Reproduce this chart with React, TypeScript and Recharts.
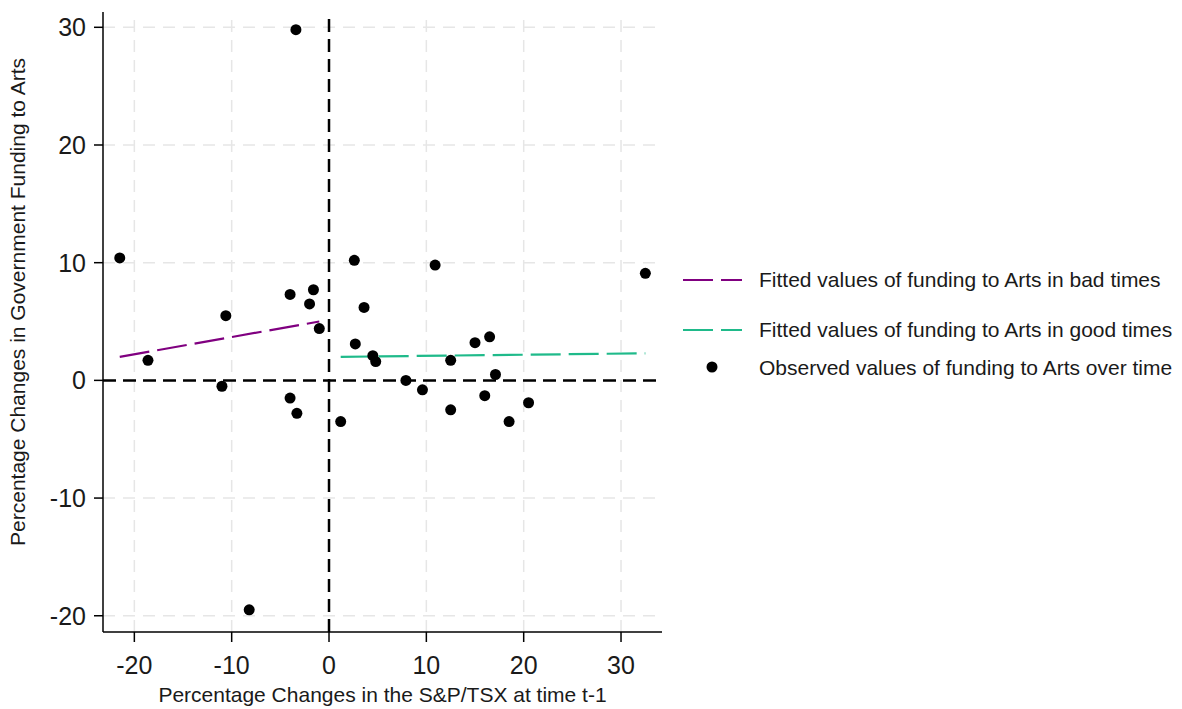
import React from "react";
import {
  ScatterChart,
  Scatter,
  XAxis,
  YAxis,
  ReferenceLine,
} from "recharts";

// Observed points: % change in S&P/TSX (t-1) vs % change in arts funding
const badX = [-21.5, -18.6, -10.6, -11.0, -4.0, -1.6, -2.0, -1.0, -4.0, -3.3, -8.2, -3.4];
const badY = [10.4, 1.7, 5.5, -0.5, 7.3, 7.7, 6.5, 4.4, -1.5, -2.8, -19.5, 29.8];
const goodX = [1.2, 2.6, 3.6, 2.7, 4.5, 4.8, 10.9, 32.5, 7.9, 9.6, 12.5, 12.5, 15.0, 16.5, 17.1, 16.0, 18.5, 20.5];
const goodY = [-3.5, 10.2, 6.2, 3.1, 2.1, 1.6, 9.8, 9.1, 0.0, -0.8, 1.7, -2.5, 3.2, 3.7, 0.5, -1.3, -3.5, -1.9];

// fitted line endpoints
const fitBadX = [-21.5, -1.0];
const fitBadY = [2.0, 5.0];
const fitGoodX = [1.2, 32.5];
const fitGoodY = [2.0, 2.3];

const xTicks = [-20, -10, 0, 10, 20, 30];
const yTicks = [-20, -10, 0, 10, 20, 30];

const PURPLE = "#800080";
const GREEN = "#1fba8a";
const FONT = "'Liberation Sans', Arial, sans-serif";

const observed = [...badX, ...goodX].map((x, i) => ({ x, y: [...badY, ...goodY][i] }));
const fitBad = fitBadX.map((x, i) => ({ x, y: fitBadY[i] }));
const fitGood = fitGoodX.map((x, i) => ({ x, y: fitGoodY[i] }));

const Dot = (p: any) => <circle cx={p.cx} cy={p.cy} r={5.5} fill="#000" />;

// x tick label: cap top sits ~13px below the tick end
const XTick = (p: any) => (
  <text x={p.x} y={p.y + 30} textAnchor="middle" fontSize={25} fill="#1a1a1a" fontFamily={FONT}>
    {p.payload.value}
  </text>
);

function YTitle(props: any) {
  const vb = props.viewBox || { x: 0, y: 12, height: 620 };
  const x = vb.x + 25;
  const y = vb.y + vb.height / 2 - 20;
  return (
    <text x={x} y={y} transform={`rotate(-90, ${x}, ${y})`} textAnchor="middle" fontSize={21} fill="#1a1a1a" fontFamily={FONT}>
      Percentage Changes in Government Funding to Arts
    </text>
  );
}

function XTitle(props: any) {
  const vb = props.viewBox || { x: 103, y: 632, width: 559 };
  return (
    <text x={vb.x + vb.width / 2} y={vb.y + 70} textAnchor="middle" fontSize={21} fill="#1a1a1a" fontFamily={FONT}>
      Percentage Changes in the S&amp;P/TSX at time t-1
    </text>
  );
}

function LegendBox() {
  const items = [
    { label: "Fitted values of funding to Arts in bad times", color: PURPLE, top: 280 },
    { label: "Fitted values of funding to Arts in good times", color: GREEN, top: 330 },
    { label: "Observed values of funding to Arts over time", color: "", top: 368 },
  ];
  return (
    <svg width={520} height={709} style={{ position: "absolute", left: 662, top: 0 }}>
      {items.map((it) => (
        <g key={it.label}>
          {it.color ? (
            <line x1={21} x2={80} y1={it.top} y2={it.top} stroke={it.color} strokeWidth={2.2} strokeDasharray="30 8" />
          ) : (
            <circle cx={50} cy={it.top - 1} r={5.5} fill="#000" />
          )}
          <text x={97} y={it.top + 7} fontSize={21} fill="#1a1a1a" fontFamily={FONT}>
            {it.label}
          </text>
        </g>
      ))}
    </svg>
  );
}

export default function App() {
  return (
    <div style={{ position: "absolute", left: 0, top: 0, width: 1182, height: 709, background: "#fff" }}>
      <ScatterChart width={1182} height={709} margin={{ top: 12, right: 520, bottom: 0, left: 0 }}>
        <XAxis
          type="number"
          dataKey="x"
          domain={[-23.22, 34.21]}
          ticks={xTicks}
          height={77}
          tickSize={10}
          allowDataOverflow
          stroke="#000"
          strokeWidth={1.5}
          tick={<XTick />}
          label={<XTitle />}
        />
        <YAxis
          type="number"
          dataKey="y"
          domain={[-21.38, 31.3]}
          ticks={yTicks}
          width={103}
          tickSize={9}
          tickMargin={8}
          allowDataOverflow
          stroke="#000"
          strokeWidth={1.5}
          tick={{ fontSize: 25, fill: "#1a1a1a", fontFamily: FONT }}
          label={<YTitle />}
        />
        {/* light dashed grid at each tick */}
        {xTicks.map((t) => (
          <ReferenceLine key={`gx${t}`} x={t} stroke="#e6e6e6" strokeWidth={1.5} strokeDasharray="12 8" />
        ))}
        {yTicks.map((t) => (
          <ReferenceLine key={`gy${t}`} y={t} stroke="#e6e6e6" strokeWidth={1.5} strokeDasharray="12 8" />
        ))}
        <ReferenceLine x={0} stroke="#000" strokeWidth={2.5} strokeDasharray="13 7" />
        <ReferenceLine y={0} stroke="#000" strokeWidth={2.5} strokeDasharray="13 7" />
        <Scatter
          name="Fitted values of funding to Arts in bad times"
          data={fitBad}
          line={{ stroke: PURPLE, strokeWidth: 2.2, strokeDasharray: "30 8" }}
          shape={() => null}
          isAnimationActive={false}
        />
        <Scatter
          name="Fitted values of funding to Arts in good times"
          data={fitGood}
          line={{ stroke: GREEN, strokeWidth: 2.2, strokeDasharray: "30 8" }}
          shape={() => null}
          isAnimationActive={false}
        />
        <Scatter
          name="Observed values of funding to Arts over time"
          data={observed}
          shape={Dot}
          isAnimationActive={false}
        />
      </ScatterChart>
      <LegendBox />
    </div>
  );
}
